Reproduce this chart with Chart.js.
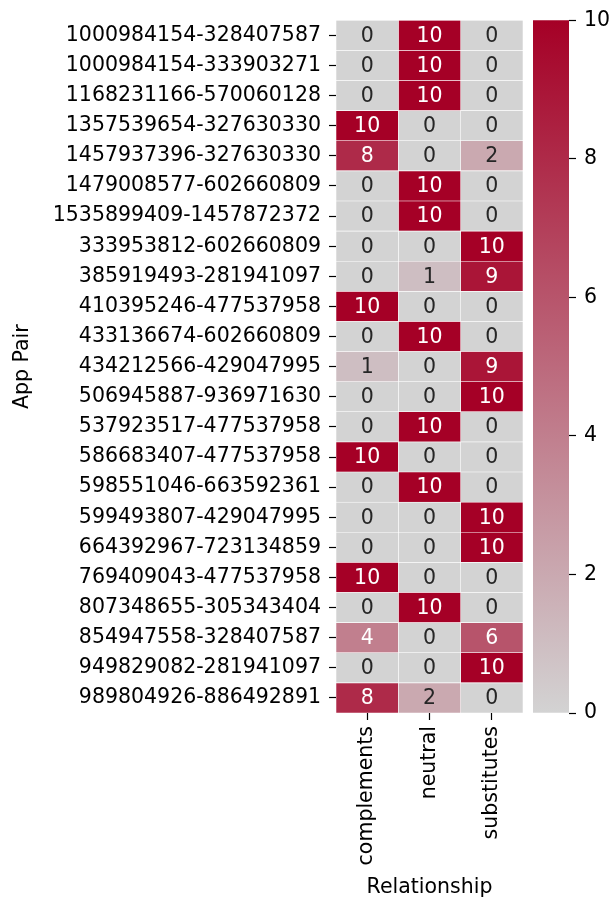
<!DOCTYPE html>
<html>
<head>
<meta charset="utf-8">
<script src="https://cdn.jsdelivr.net/npm/chart.js@4/dist/chart.umd.min.js"></script>
<style>
  html, body { margin: 0; padding: 0; background: #ffffff; }
  #wrap { position: relative; width: 610px; height: 901px; }
  #main { position: absolute; left: 0; top: 0; }
  #cbar { position: absolute; left: 520px; top: 0; }
</style>
</head>
<body>
<div id="wrap">
  <canvas id="main" width="610" height="901"></canvas>
  <canvas id="cbar" width="90" height="901"></canvas>
</div>
<script>
// ---- data ----
const appPairs = [
  "1000984154-328407587", "1000984154-333903271", "1168231166-570060128",
  "1357539654-327630330", "1457937396-327630330", "1479008577-602660809",
  "1535899409-1457872372", "333953812-602660809", "385919493-281941097",
  "410395246-477537958", "433136674-602660809", "434212566-429047995",
  "506945887-936971630", "537923517-477537958", "586683407-477537958",
  "598551046-663592361", "599493807-429047995", "664392967-723134859",
  "769409043-477537958", "807348655-305343404", "854947558-328407587",
  "949829082-281941097", "989804926-886492891"
];
const relationships = ["complements", "neutral", "substitutes"];
const complements = [0,0,0,10,8,0,0,0,0,10,0,1,0,0,10,0,0,0,10,0,4,0,8];
const neutral     = [10,10,10,0,0,10,10,0,1,0,10,0,0,10,0,10,0,0,0,10,0,0,2];
const substitutes = [0,0,0,0,2,0,0,10,9,0,0,9,10,0,0,0,10,10,0,0,6,10,0];
const colorbarTicks = [0, 2, 4, 6, 8, 10];
const vmin = 0, vmax = 10;

// ---- styling helpers ----
const FONT = "DejaVu Sans";
const FS = 20.5;
const lowRGB = [211, 211, 211];
const highRGB = [165, 0, 38];
function cmapRGB(v) {
  const t = Math.max(0, Math.min(1, (v - vmin) / (vmax - vmin)));
  return lowRGB.map((c, i) => Math.round(c + (highRGB[i] - c) * t));
}
function cmap(v) { const c = cmapRGB(v); return `rgb(${c[0]},${c[1]},${c[2]})`; }
function textColor(v) {
  const lin = cmapRGB(v).map(c => { c /= 255; return c <= 0.03928 ? c / 12.92 : Math.pow((c + 0.055) / 1.055, 2.4); });
  const lum = 0.2126 * lin[0] + 0.7152 * lin[1] + 0.0722 * lin[2];
  return lum > 0.408 ? "#262626" : "#ffffff";
}

const columns = [complements, neutral, substitutes];
const datasets = columns.map((vals, c) => ({
  label: relationships[c],
  data: vals.map(() => [c, c + 1]),
  values: vals,
  backgroundColor: vals.map(cmap),
  borderColor: "#ffffff",
  borderWidth: 0.6,
  borderSkipped: false,
  barPercentage: 1.0,
  categoryPercentage: 1.0
}));

const cellLabels = {
  id: "cellLabels",
  afterDatasetsDraw(chart) {
    const ctx = chart.ctx;
    ctx.save();
    ctx.font = `${FS}px "${FONT}"`;
    ctx.textAlign = "center";
    ctx.textBaseline = "middle";
    chart.data.datasets.forEach((ds, di) => {
      const meta = chart.getDatasetMeta(di);
      meta.data.forEach((el, i) => {
        const v = ds.values[i];
        ctx.fillStyle = textColor(v);
        ctx.fillText(String(v), (el.x + el.base) / 2, el.y + 1);
      });
    });
    ctx.restore();
  }
};

new Chart(document.getElementById("main"), {
  type: "bar",
  data: { labels: appPairs, datasets },
  plugins: [cellLabels],
  options: {
    indexAxis: "y",
    responsive: false,
    animation: false,
    layout: { padding: { top: 16, right: 87, left: 0, bottom: 0 } },
    plugins: { legend: { display: false }, tooltip: { enabled: false } },
    scales: {
      y: {
        type: "category",
        stacked: true,
        offset: true,
        afterFit(scale) { scale.width = 336; },
        border: { display: false },
        grid: { offset: false, drawOnChartArea: false, tickLength: 7, tickWidth: 1.2, color: "#000000" },
        ticks: { color: "#000000", font: { family: FONT, size: FS }, padding: 8, autoSkip: false },
        title: { display: true, text: "App Pair", color: "#000000", font: { family: FONT, size: FS }, padding: { top: 10, bottom: 0 } }
      },
      x: {
        type: "linear",
        min: 0, max: 3,
        stacked: false,
        afterBuildTicks(scale) { scale.ticks = [{ value: 0.5 }, { value: 1.5 }, { value: 2.5 }]; },
        afterFit(scale) { scale.height = 188; },
        border: { display: false },
        grid: { drawOnChartArea: false, tickLength: 7, tickWidth: 1.2, color: "#000000" },
        ticks: {
          color: "#000000", font: { family: FONT, size: FS }, padding: 6,
          minRotation: 90, maxRotation: 90, autoSkip: false,
          callback: (v) => relationships[Math.floor(v)]
        },
        title: { display: true, text: "Relationship", color: "#000000", font: { family: FONT, size: FS }, padding: { top: 0, bottom: 1 } }
      }
    }
  }
});

// ---- colorbar ----
new Chart(document.getElementById("cbar"), {
  type: "bar",
  data: {
    labels: [""],
    datasets: [{
      data: [[vmin, vmax]],
      barPercentage: 1.0,
      categoryPercentage: 1.0,
      borderWidth: 0,
      backgroundColor(context) {
        const area = context.chart.chartArea;
        if (!area) return cmap(vmax);
        const g = context.chart.ctx.createLinearGradient(0, area.bottom, 0, area.top);
        g.addColorStop(0, cmap(vmin));
        g.addColorStop(1, cmap(vmax));
        return g;
      }
    }]
  },
  options: {
    responsive: false,
    animation: false,
    layout: { padding: { left: 13, top: 15, bottom: 188, right: 0 } },
    plugins: { legend: { display: false }, tooltip: { enabled: false } },
    scales: {
      x: { display: false },
      y: {
        position: "right",
        min: vmin, max: vmax,
        afterBuildTicks(scale) { scale.ticks = colorbarTicks.map(v => ({ value: v })); },
        afterFit(scale) { scale.width = 41; },
        border: { display: false },
        grid: { drawOnChartArea: false, tickLength: 7, tickWidth: 1.2, color: "#000000" },
        ticks: { color: "#000000", font: { family: FONT, size: FS }, padding: 8 }
      }
    }
  }
});
</script>
</body>
</html>
